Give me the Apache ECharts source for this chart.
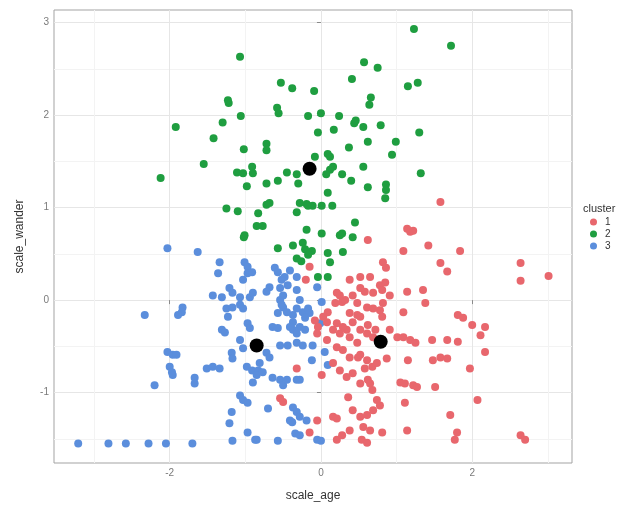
<!DOCTYPE html>
<html><head><meta charset="utf-8">
<script src="https://cdn.jsdelivr.net/npm/echarts@6/dist/echarts.min.js"></script>
<style>html,body{margin:0;padding:0;background:#fff}#c{width:634px;height:507px}</style>
</head><body><div id="c"></div>
<script>
// cluster 1 (red)
const cluster1 = [[1.42,0.59],[1.84,0.53],[1.09,0.53],[0.62,0.65],[1.18,0.74],[2.64,0.40],[2.64,0.21],[3.01,0.26],[1.58,0.40],[1.67,0.31],[0.82,0.41],[0.86,0.35],[0.38,0.22],[0.52,0.25],[0.65,0.25],[0.78,0.16],[0.81,0.11],[0.85,0.19],[1.14,0.09],[1.35,0.11],[1.38,-0.03],[0.21,0.08],[0.28,-0.02],[0.32,0.00],[0.42,0.05],[0.58,0.09],[0.61,-0.08],[0.78,-0.11],[0.81,-0.18],[1.09,-0.13],[1.81,-0.16],[1.88,-0.19],[2.00,-0.27],[2.17,-0.29],[2.11,-0.38],[0.09,-0.13],[0.03,-0.18],[0.08,-0.24],[0.38,-0.14],[0.48,-0.16],[0.52,-0.18],[0.16,-0.32],[0.25,-0.36],[0.34,-0.32],[0.52,-0.32],[0.61,-0.36],[0.69,-0.40],[0.91,-0.32],[1.01,-0.40],[1.09,-0.40],[1.18,-0.43],[1.25,-0.46],[1.47,-0.43],[1.67,-0.43],[1.81,-0.45],[1.58,-0.62],[1.67,-0.63],[1.48,-0.65],[1.15,-0.65],[0.87,-0.63],[2.17,-0.56],[1.97,-0.74],[0.08,-0.43],[0.21,-0.51],[0.29,-0.54],[0.38,-0.62],[0.49,-0.62],[0.61,-0.65],[0.68,-0.72],[0.74,-0.68],[0.16,-0.68],[0.25,-0.76],[0.34,-0.83],[0.42,-0.79],[0.52,-0.90],[0.65,-0.90],[0.68,-0.97],[1.05,-0.89],[1.11,-0.90],[1.22,-0.92],[1.27,-0.94],[1.51,-0.94],[0.36,-1.05],[0.74,-1.08],[0.78,-1.14],[0.69,-1.19],[0.61,-1.24],[0.52,-1.26],[0.42,-1.19],[1.11,-1.11],[2.07,-1.08],[1.71,-1.24],[0.65,-1.41],[0.56,-1.37],[0.81,-1.43],[1.14,-1.41],[1.80,-1.43],[1.77,-1.51],[2.64,-1.46],[2.70,-1.51],[0.21,-1.51],[0.28,-1.46],[0.38,-1.41],[0.54,-1.51],[0.61,-1.54],[-0.32,-0.74],[-0.50,-1.10],[-0.54,-1.06],[1.58,1.06],[1.14,0.77],[1.22,0.75],[-0.15,0.36],[-0.20,0.22],[0.25,0.05],[0.52,0.13],[0.69,0.08],[0.19,-0.03],[0.48,-0.03],[0.69,-0.09],[-0.08,-0.22],[-0.04,-0.29],[0.21,-0.25],[0.29,-0.29],[0.42,-0.24],[0.62,-0.27],[0.72,-0.32],[-0.05,-0.36],[0.38,-0.40],[0.91,0.05],[0.82,-0.03],[0.48,-0.46],[0.52,-0.59],[0.58,-0.74],[0.62,-0.86],[0.16,-1.26],[0.21,-1.28],[-0.05,-1.30],[-0.15,-1.43],[0.01,-0.81]];
// cluster 2 (green)
const cluster2 = [[-1.07,2.63],[-0.53,2.35],[-0.38,2.29],[-1.22,2.13],[-1.23,2.16],[-0.58,2.08],[-0.56,2.02],[-1.06,1.99],[-0.17,1.99],[-1.30,1.92],[-1.92,1.87],[-1.42,1.75],[-1.02,1.63],[-0.72,1.69],[-0.72,1.62],[-1.55,1.47],[-1.11,1.38],[-1.03,1.37],[-0.91,1.44],[-0.90,1.37],[-0.45,1.38],[-0.32,1.36],[-2.12,1.32],[-0.98,1.23],[-0.72,1.26],[-0.57,1.29],[-0.30,1.26],[-1.25,0.99],[-1.10,0.96],[-0.72,1.03],[-0.68,1.05],[-0.83,0.94],[-0.28,1.05],[-0.32,0.95],[-0.19,1.04],[-0.85,0.80],[-0.77,0.80],[-1.02,0.68],[-0.19,0.76],[1.23,2.93],[1.72,2.75],[0.57,2.57],[0.75,2.51],[0.41,2.39],[1.15,2.31],[1.28,2.35],[-0.09,2.26],[0.66,2.19],[0.64,2.11],[0.00,2.02],[0.24,1.99],[0.44,1.91],[0.46,1.94],[0.56,1.87],[0.79,1.89],[-0.04,1.81],[0.17,1.84],[1.30,1.81],[0.62,1.71],[0.99,1.71],[0.37,1.65],[0.94,1.57],[-0.08,1.55],[0.09,1.58],[0.12,1.55],[0.16,1.44],[0.12,1.41],[0.07,1.36],[0.28,1.36],[0.56,1.44],[0.40,1.29],[1.32,1.37],[0.62,1.22],[0.86,1.25],[0.86,1.19],[0.85,1.10],[0.09,1.16],[-0.17,1.02],[-0.11,1.02],[0.01,1.02],[0.15,1.02],[0.45,0.84],[0.01,0.72],[0.28,0.72],[0.42,0.68],[-0.57,0.56],[-0.37,0.59],[-0.24,0.62],[-0.21,0.55],[-0.12,0.53],[-0.32,0.45],[-0.26,0.42],[-0.17,0.49],[0.09,0.51],[0.12,0.41],[0.29,0.52],[-0.04,0.25],[0.09,0.25],[0.25,0.70],[-1.01,0.70]];
// cluster 3 (blue)
const cluster3 = [[-2.03,0.56],[-1.63,0.52],[-1.34,0.41],[-1.36,0.29],[-1.01,0.41],[-0.97,0.36],[-1.03,0.22],[-0.97,0.29],[-0.91,0.30],[-0.61,0.35],[-0.57,0.30],[-0.48,0.25],[-0.41,0.32],[-0.32,0.25],[-0.68,0.14],[-0.54,0.13],[-0.50,0.05],[-0.32,0.11],[-1.43,0.05],[-1.31,0.03],[-1.21,0.13],[-1.17,0.08],[-1.07,0.03],[-0.94,0.03],[-0.90,0.08],[-1.83,-0.08],[-1.84,-0.13],[-1.89,-0.16],[-2.33,-0.16],[-1.25,-0.09],[-1.17,-0.08],[-1.07,-0.05],[-1.03,-0.09],[-1.23,-0.18],[-1.31,-0.32],[-1.27,-0.35],[-0.97,-0.25],[-0.94,-0.30],[-0.64,-0.29],[-0.57,-0.30],[-0.54,0.00],[-0.50,-0.08],[-0.45,-0.13],[-0.37,-0.16],[-0.32,-0.09],[-0.28,0.00],[-0.24,-0.13],[-0.37,-0.32],[-0.54,-0.49],[-0.44,-0.49],[-0.32,-0.46],[-0.24,-0.49],[-1.07,-0.43],[-1.03,-0.52],[-1.18,-0.57],[-1.17,-0.63],[-0.72,-0.57],[-0.68,-0.62],[-2.03,-0.56],[-1.96,-0.59],[-1.91,-0.59],[-2.00,-0.72],[-1.97,-0.78],[-1.96,-0.81],[-1.51,-0.74],[-1.43,-0.72],[-1.34,-0.74],[-0.98,-0.72],[-0.91,-0.76],[-0.81,-0.68],[-0.83,-0.76],[-0.85,-0.81],[-0.90,-0.89],[-1.67,-0.84],[-1.67,-0.90],[-2.20,-0.92],[-0.64,-0.84],[-0.54,-0.86],[-0.50,-0.92],[-0.45,-0.86],[-0.32,-0.86],[-0.28,-0.86],[-1.07,-1.03],[-1.03,-1.08],[-0.97,-1.11],[-1.18,-1.21],[-0.70,-1.17],[-0.37,-1.16],[-0.32,-1.21],[-0.28,-1.26],[-0.19,-1.30],[-1.21,-1.33],[-0.97,-1.43],[-0.85,-1.51],[-0.38,-1.32],[-0.34,-1.44],[-0.57,-1.52],[-1.17,-1.52],[-3.21,-1.55],[-2.81,-1.55],[-2.58,-1.55],[-2.28,-1.55],[-2.05,-1.55],[-1.70,-1.55],[-0.11,-0.49],[0.05,-0.56],[0.09,-0.70],[-0.12,-0.65],[-0.05,-1.51],[0.00,-1.52],[-0.41,-1.30],[-0.28,-1.46],[-0.87,-1.51],[-0.77,-0.78],[-0.05,0.14],[0.01,-0.02],[-0.17,-0.09],[-0.15,-0.14],[-0.21,-0.19],[-0.37,-0.24],[-0.28,-0.29],[-0.21,-0.32],[-0.32,-0.36],[-0.44,0.16],[-0.72,0.09],[-0.52,0.22],[-0.52,-0.05],[-0.57,-0.14],[-0.41,-0.29],[-0.01,-0.25]];
// cluster centres (1, 2, 3)
const centers = [[0.79,-0.45],[-0.15,1.42],[-0.85,-0.49]];
const clusterNames = ['1','2','3'];
const clusterColors = ['#E8676D','#1F9E40','#5B8EDC'];
const xMajor = [-2,0,2];
const xMinor = [-3,-1,1,3];
const yMajor = [-1,0,1,2,3];
const yMinor = [-1.5,-0.5,0.5,1.5,2.5];
const xRange = [-3.53,3.32];
const yRange = [-1.76,3.135];

const FONT = 'Liberation Sans, Arial, sans-serif';
const chart = echarts.init(document.getElementById('c'), null, {renderer:'canvas'});

function majorAxis(range, ticks, extra){
  return Object.assign({
    type:'value', min:range[0], max:range[1],
    axisLine:{show:false},
    axisTick:{show:true, length:4, customValues:ticks, lineStyle:{color:'#8a8a8a'}},
    axisLabel:{customValues:ticks, fontSize:10, color:'#7a7a7a', fontFamily:FONT, margin:5},
    splitLine:{show:true, lineStyle:{color:'#e6e6e6', width:1}}
  }, extra);
}
function minorAxis(range, ticks, extra){
  return Object.assign({
    type:'value', min:range[0], max:range[1],
    axisLine:{show:false},
    axisTick:{show:false, customValues:ticks},
    axisLabel:{show:false, customValues:ticks},
    splitLine:{show:true, lineStyle:{color:'#f3f3f3', width:1}}
  }, extra);
}

const series = [];
const datas = [cluster1, cluster2, cluster3];
[2,0,1].forEach(i => {
  series.push({
    type:'scatter', name:clusterNames[i], data:datas[i],
    symbol:'circle', symbolSize:8,
    itemStyle:{color:clusterColors[i], opacity:1},
    xAxisIndex:0, yAxisIndex:0, z:3
  });
});
series.push({
  type:'scatter', name:'centers', data:centers, symbol:'circle', symbolSize:14,
  itemStyle:{color:'#000', opacity:1}, xAxisIndex:0, yAxisIndex:0, z:5
});

chart.setOption({
  animation:false,
  backgroundColor:'#fff',
  title:{text:'cluster', left:583, top:203, padding:0,
    textStyle:{fontSize:11, fontWeight:'normal', color:'#333', fontFamily:FONT}},
  legend:{data:clusterNames, orient:'vertical', left:590, top:217, padding:0,
    itemWidth:7, itemHeight:7, itemGap:2, icon:'circle', selectedMode:false,
    textStyle:{fontSize:10, color:'#333', fontFamily:FONT, lineHeight:7, padding:[0,0,0,3]}},
  grid:{left:54, right:62, top:10, bottom:44, show:true, borderColor:'#a3a3a3', borderWidth:1, backgroundColor:'#fff'},
  xAxis:[
    majorAxis(xRange, xMajor, {position:'bottom', name:'scale_age', nameLocation:'middle', nameGap:27,
      nameTextStyle:{fontSize:12, color:'#333', fontFamily:FONT}}),
    minorAxis(xRange, xMinor, {position:'bottom'})
  ],
  yAxis:[
    majorAxis(yRange, yMajor, {position:'left', name:'scale_wander', nameLocation:'middle', nameGap:28,
      nameTextStyle:{fontSize:12, color:'#333', fontFamily:FONT}}),
    minorAxis(yRange, yMinor, {position:'left'})
  ],
  series: series
});
</script></body></html>
